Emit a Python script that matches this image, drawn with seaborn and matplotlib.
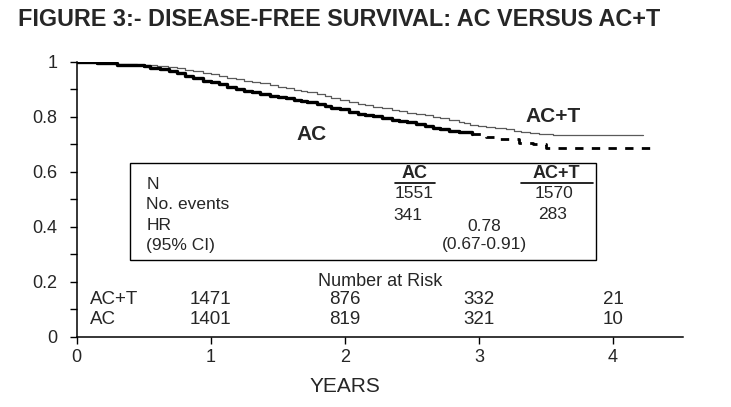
import matplotlib
matplotlib.use("Agg")
import matplotlib.pyplot as plt
import pandas as pd
import seaborn as sns

sns.set_style("ticks")
plt.rcParams["font.family"] = ["Liberation Sans", "DejaVu Sans"]

# Kaplan-Meier step points
act_years = [0, 0.15, 0.3, 0.45, 0.52, 0.6, 0.68, 0.75, 0.81, 0.87, 0.94, 1.0,
             1.06, 1.12, 1.19, 1.25, 1.31, 1.37, 1.44, 1.5, 1.56, 1.62, 1.67,
             1.72, 1.79, 1.85, 1.9, 1.96, 2.03, 2.1, 2.15, 2.21, 2.28, 2.35,
             2.4, 2.46, 2.53, 2.6, 2.66, 2.71, 2.78, 2.85, 2.89, 2.93, 2.99,
             3.05, 3.12, 3.2, 3.26, 3.31, 3.38, 3.45, 3.55, 4.22]
act_surv = [1.0, 0.997, 0.992, 0.99, 0.988, 0.985, 0.981, 0.977, 0.972, 0.967,
            0.961, 0.955, 0.949, 0.942, 0.937, 0.932, 0.927, 0.922, 0.916,
            0.91, 0.904, 0.898, 0.894, 0.89, 0.882, 0.875, 0.868, 0.862, 0.855,
            0.848, 0.842, 0.836, 0.831, 0.826, 0.82, 0.815, 0.81, 0.806, 0.801,
            0.796, 0.79, 0.783, 0.778, 0.772, 0.768, 0.764, 0.76, 0.755, 0.75,
            0.745, 0.742, 0.738, 0.733, 0.733]

ac_years = [0, 0.15, 0.3, 0.5, 0.55, 0.62, 0.69, 0.75, 0.81, 0.87, 0.94, 1.0,
            1.06, 1.12, 1.19, 1.25, 1.31, 1.37, 1.44, 1.5, 1.56, 1.62, 1.67,
            1.72, 1.79, 1.85, 1.9, 1.96, 2.03, 2.1, 2.15, 2.21, 2.28, 2.35,
            2.4, 2.46, 2.53, 2.6, 2.66, 2.71, 2.78, 2.85, 2.95]
ac_surv = [1.0, 0.997, 0.99, 0.986, 0.978, 0.975, 0.967, 0.958, 0.949, 0.94,
           0.932, 0.925, 0.918, 0.91, 0.902, 0.895, 0.889, 0.882, 0.877,
           0.872, 0.867, 0.862, 0.858, 0.855, 0.848, 0.84, 0.833, 0.827, 0.819,
           0.812, 0.807, 0.802, 0.796, 0.79, 0.786, 0.782, 0.775, 0.768,
           0.761, 0.755, 0.75, 0.745, 0.736]
# sparse follow-up part, drawn dashed
ac_tail_years = [2.95, 3.05, 3.15, 3.3, 3.4, 3.5, 4.33]
ac_tail_surv = [0.736, 0.728, 0.72, 0.705, 0.70, 0.687, 0.687]

risk_years = [1, 2, 3, 4]
risk_act = [1471, 876, 332, 21]
risk_ac = [1401, 819, 321, 10]

stat_rows = ["N", "No. events", "HR", "(95% CI)"]
n_ac, n_act = 1551, 1570
events_ac, events_act = 341, 283
hr, hr_ci = "0.78", "(0.67-0.91)"

fig = plt.figure(figsize=(7.31, 4.07), dpi=100)
ax = fig.add_axes([0.105, 0.172, 0.829, 0.676])

df_act = pd.DataFrame({"years": act_years, "surv": act_surv})
df_ac = pd.DataFrame({"years": ac_years, "surv": ac_surv})
df_tail = pd.DataFrame({"years": ac_tail_years, "surv": ac_tail_surv})

sns.lineplot(data=df_act, x="years", y="surv", ax=ax, estimator=None,
             drawstyle="steps-post", color="#5a5a5a", linewidth=0.9)
sns.lineplot(data=df_ac, x="years", y="surv", ax=ax, estimator=None,
             drawstyle="steps-post", color="black", linewidth=2.4)
sns.lineplot(data=df_tail, x="years", y="surv", ax=ax, estimator=None,
             drawstyle="steps-post", color="black", linewidth=2.0,
             linestyle=(0, (3, 3)))

ax.set_xlim(0, 4.52)
ax.set_ylim(0, 1)
ax.set_xticks([0, 1, 2, 3, 4])
ax.set_yticks([0, 0.2, 0.4, 0.6, 0.8, 1.0])
ax.set_yticklabels(["0", "0.2", "0.4", "0.6", "0.8", "1"])
ax.set_yticks([0.1, 0.3, 0.5, 0.7, 0.9], minor=True)
ax.tick_params(axis="both", which="both", direction="out", length=5,
               width=1, labelsize=13, color="black")
ax.tick_params(axis="y", pad=9)
ax.tick_params(axis="x", pad=4)
for s in ["left", "bottom"]:
    ax.spines[s].set_linewidth(1.1)
    ax.spines[s].set_color("black")
sns.despine(ax=ax)
ax.set_xlabel("YEARS", fontsize=15, labelpad=10)
ax.xaxis.set_label_coords(2 / 4.52, -0.145)
ax.set_ylabel("")

# curve labels
ax.text(3.55, 0.80, "AC+T", fontsize=15, fontweight="bold", ha="center", va="center")
ax.text(1.75, 0.735, "AC", fontsize=15, fontweight="bold", ha="center", va="center")

# statistics box
ax.add_patch(plt.Rectangle((0.4, 0.28), 3.47, 0.353, fill=False,
                           edgecolor="black", linewidth=1.0))
for i, row in enumerate(stat_rows):
    ax.text(0.52, 0.553 - i * 0.073, row, fontsize=12.5, va="center", ha="left")
ax.text(2.52, 0.593, "AC", fontsize=13, fontweight="bold", ha="center", va="center")
ax.text(3.58, 0.593, "AC+T", fontsize=13, fontweight="bold", ha="center", va="center")
ax.plot([2.37, 2.67], [0.561, 0.561], color="black", lw=1.2)
ax.plot([3.31, 3.85], [0.561, 0.561], color="black", lw=1.2)
ax.text(2.52, 0.522, str(n_ac), fontsize=12.5, ha="center", va="center")
ax.text(3.56, 0.522, str(n_act), fontsize=12.5, ha="center", va="center")
ax.text(2.47, 0.443, str(events_ac), fontsize=12.5, ha="center", va="center")
ax.text(3.55, 0.447, str(events_act), fontsize=12.5, ha="center", va="center")
ax.text(3.04, 0.403, hr, fontsize=12.5, ha="center", va="center")
ax.text(3.04, 0.338, hr_ci, fontsize=12.5, ha="center", va="center")

# number at risk
ax.text(2.26, 0.203, "Number at Risk", fontsize=13, ha="center", va="center")
ax.text(0.1, 0.138, "AC+T", fontsize=13.5, ha="left", va="center")
ax.text(0.1, 0.062, "AC", fontsize=13.5, ha="left", va="center")
for yr, a, b in zip(risk_years, risk_act, risk_ac):
    ax.text(yr, 0.138, str(a), fontsize=13.5, ha="center", va="center")
    ax.text(yr, 0.062, str(b), fontsize=13.5, ha="center", va="center")

fig.text(0.024, 0.952, "FIGURE 3:- DISEASE-FREE SURVIVAL: AC VERSUS AC+T",
         fontsize=16.8, fontweight="bold", ha="left", va="center")

fig.savefig("out.png", dpi=100)
